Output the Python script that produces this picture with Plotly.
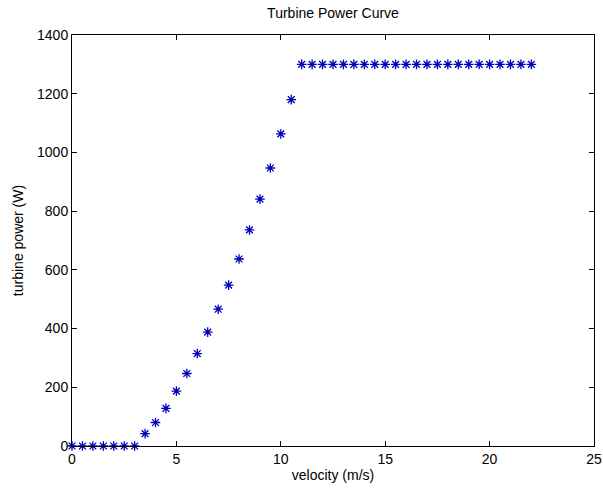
import plotly.graph_objects as go

velocity = [0, 0.5, 1, 1.5, 2, 2.5, 3, 3.5, 4, 4.5, 5, 5.5, 6, 6.5, 7, 7.5, 8, 8.5, 9, 9.5, 10, 10.5,
            11, 11.5, 12, 12.5, 13, 13.5, 14, 14.5, 15, 15.5, 16, 16.5, 17, 17.5, 18, 18.5, 19, 19.5,
            20, 20.5, 21, 21.5, 22]
power = [0, 0, 0, 0, 0, 0, 0, 42, 80, 128, 187, 247, 315, 388, 466, 548, 637, 736, 841, 947, 1063, 1180,
         1300, 1300, 1300, 1300, 1300, 1300, 1300, 1300, 1300, 1300, 1300, 1300, 1300, 1300, 1300, 1300,
         1300, 1300, 1300, 1300, 1300, 1300, 1300]
x_ticks = [0, 5, 10, 15, 20, 25]
y_ticks = [0, 200, 400, 600, 800, 1000, 1200, 1400]

font = "Liberation Sans, Arial, sans-serif"

fig = go.Figure(go.Scatter(
    x=velocity, y=power, mode="markers",
    marker=dict(symbol="asterisk-open", size=8, color="#0000B8",
                line=dict(color="#0000B8", width=1.3)),
    cliponaxis=False,
))

axis_common = dict(showline=True, linecolor="black", linewidth=1, mirror="ticks",
                   ticks="inside", ticklen=5, tickcolor="black", showgrid=False,
                   zeroline=False, automargin=False,
                   tickfont=dict(family=font, size=14, color="black"))

fig.update_layout(
    width=603, height=491,
    margin=dict(l=72, r=9, t=35, b=45),
    paper_bgcolor="white", plot_bgcolor="white",
    showlegend=False,
    title=dict(text="Turbine Power Curve", x=333/603, xanchor="center", xref="container",
               y=1-13/491, yanchor="middle", yref="container", automargin=False,
               font=dict(family=font, size=14, color="black")),
    xaxis=dict(range=[0, 25], tickvals=x_ticks, **axis_common,
               title=dict(text="velocity (m/s)", standoff=4,
                          font=dict(family=font, size=14, color="black"))),
    yaxis=dict(range=[0, 1400], tickvals=y_ticks, **axis_common,
               title=dict(text="turbine power (W)", standoff=10,
                          font=dict(family=font, size=14, color="black"))),
)

fig.write_html("out.html", config={"displayModeBar": False},
               post_script="document.body.style.margin='0';document.body.style.overflow='hidden';")
